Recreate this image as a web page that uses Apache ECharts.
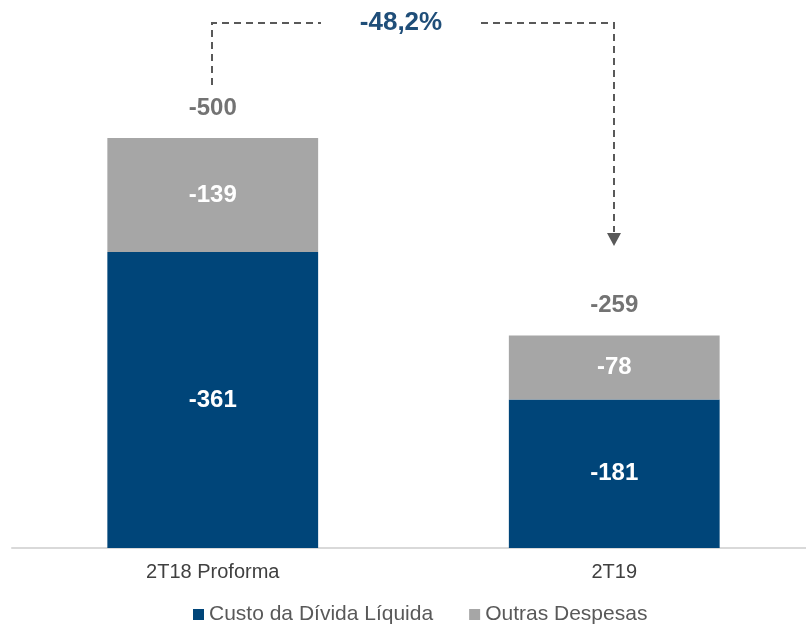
<!DOCTYPE html>
<html>
<head>
<meta charset="utf-8">
<script src="https://cdn.jsdelivr.net/npm/echarts@6/dist/echarts.min.js"></script>
<style>
  html, body { margin: 0; padding: 0; background: #fff; }
  #chart { width: 806px; height: 634px; }
</style>
</head>
<body>
<div id="chart"></div>
<script>
// dados
var categories = ['2T18 Proforma', '2T19'];
var custoDivida = [-361, -181];
var outrasDespesas = [-139, -78];
var totais = [-500, -259];
var variacao = '-48,2%';

var fontFam = '"Liberation Sans", Arial, sans-serif';

var chart = echarts.init(document.getElementById('chart'));

var option = {
    animation: false,
    textStyle: { fontFamily: fontFam },
    grid: { left: 12, width: 803, top: 56, bottom: 86, outerBoundsMode: 'none', containLabel: false },
    legend: {
        bottom: 4,
        left: 188,
        itemWidth: 11,
        itemHeight: 11,
        itemGap: 36,
        icon: 'rect',
        textStyle: { fontSize: 21, color: '#595959', fontFamily: fontFam },
        data: ['Custo da Dívida Líquida', 'Outras Despesas']
    },
    xAxis: {
        type: 'category',
        data: categories,
        axisLine: { lineStyle: { color: '#d9d9d9', width: 2 } },
        axisTick: { show: false },
        axisLabel: { fontSize: 20, color: '#404040', margin: 14 }
    },
    yAxis: {
        type: 'value',
        inverse: true,
        min: -600,
        max: 0,
        show: false,
        splitLine: { show: false }
    },
    series: [
        {
            name: 'Custo da Dívida Líquida',
            type: 'bar',
            stack: 'total',
            barWidth: '52.5%',
            itemStyle: { color: '#004579' },
            label: { show: true, position: 'inside', color: '#fff', fontSize: 24, fontWeight: 'bold' },
            data: custoDivida
        },
        {
            name: 'Outras Despesas',
            type: 'bar',
            stack: 'total',
            itemStyle: { color: '#a6a6a6' },
            label: { show: true, position: 'inside', color: '#fff', fontSize: 24, fontWeight: 'bold' },
            data: outrasDespesas
        },
        {
            name: 'Total',
            type: 'scatter',
            symbolSize: 0,
            label: {
                show: true,
                position: 'top',
                distance: 18,
                color: '#505050',
                fontSize: 24,
                fontWeight: 'bold'
            },
            data: totais
        }
    ],
    graphic: [
        { type: 'polyline', shape: { points: [[212, 85], [212, 23], [321, 23]] },
          style: { stroke: '#595959', lineWidth: 2, lineDash: [7, 5], fill: null } },
        { type: 'polyline', shape: { points: [[481, 23], [614, 23], [614, 232]] },
          style: { stroke: '#595959', lineWidth: 2, lineDash: [7, 5], fill: null } },
        { type: 'polygon', shape: { points: [[607, 233], [621, 233], [614, 246]] },
          style: { fill: '#595959' } },
        { type: 'text', x: 401, y: 23,
          style: { text: variacao, fill: '#1f4e79', font: 'bold 26px ' + fontFam, align: 'center', verticalAlign: 'middle' } }
    ]
};

chart.setOption(option);
</script>
</body>
</html>
